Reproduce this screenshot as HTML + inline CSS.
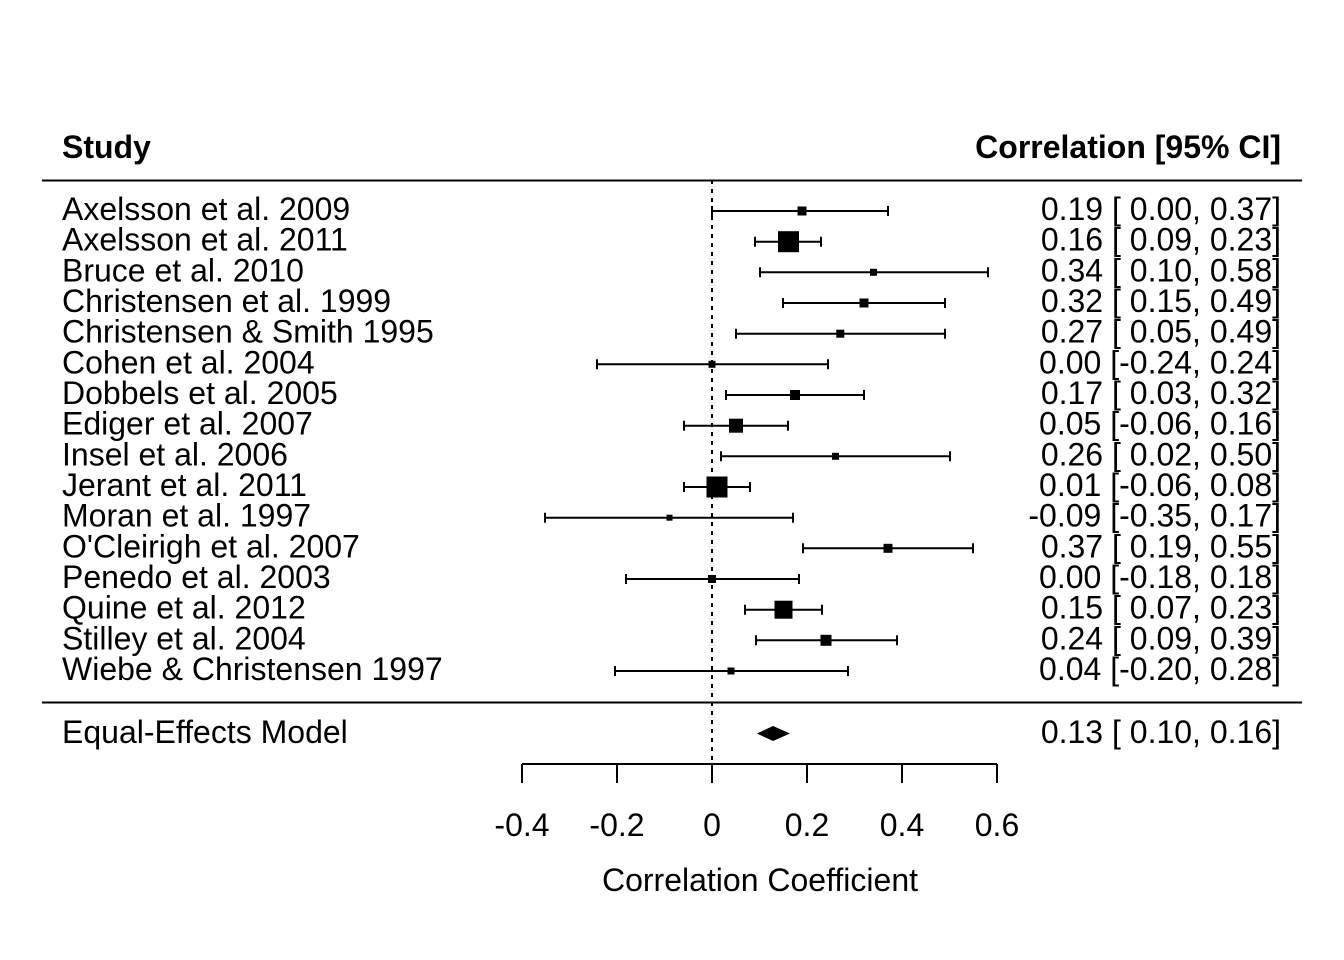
<!DOCTYPE html>
<html><head><meta charset="utf-8"><style>html,body{margin:0;padding:0;background:#fff}svg{display:block}text{font-family:"Liberation Sans",Arial,sans-serif;font-size:32px;fill:#000}</style></head><body>
<svg width="1344" height="960" viewBox="0 0 1344 960" xmlns="http://www.w3.org/2000/svg">
<rect width="1344" height="960" fill="#fff"/>
<text x="62" y="158" font-weight="bold" font-size="31">Study</text>
<text x="1281" y="158" font-weight="bold" font-size="31" text-anchor="end">Correlation [95% CI]</text>
<line x1="42" y1="180.5" x2="1302" y2="180.5" stroke="#000" stroke-width="2"/>
<line x1="42" y1="702.5" x2="1302" y2="702.5" stroke="#000" stroke-width="2"/>
<line x1="712" y1="180" x2="712" y2="764" stroke="#000" stroke-width="2" stroke-dasharray="4,5"/>
<g stroke="#000" stroke-width="2" fill="none">
<line x1="522" y1="764" x2="997" y2="764"/>
<line x1="522" y1="764" x2="522" y2="783"/><line x1="617" y1="764" x2="617" y2="783"/><line x1="712" y1="764" x2="712" y2="783"/><line x1="807" y1="764" x2="807" y2="783"/><line x1="902" y1="764" x2="902" y2="783"/><line x1="997" y1="764" x2="997" y2="783"/>
</g>
<g text-anchor="middle"><text x="522" y="836">-0.4</text><text x="617" y="836">-0.2</text><text x="712" y="836">0</text><text x="807" y="836">0.2</text><text x="902" y="836">0.4</text><text x="997" y="836">0.6</text>
<text x="760" y="891">Correlation Coefficient</text></g>
<polygon points="757,733.5 773,726 790,733.5 773,741" fill="#000"/>
<text x="62" y="743">Equal-Effects Model</text>
<text x="1281" y="743" text-anchor="end" xml:space="preserve">0.13 [ 0.10, 0.16]</text>
<g stroke="#000" stroke-width="2" fill="none">
<path d="M712 211H888M712 206V216M888 206V216"/>
<path d="M755 241.7H821M755 236.7V246.7M821 236.7V246.7"/>
<path d="M760 272.3H988M760 267.3V277.3M988 267.3V277.3"/>
<path d="M783 303H945M783 298V308M945 298V308"/>
<path d="M736 333.7H945M736 328.7V338.7M945 328.7V338.7"/>
<path d="M597 364.3H828M597 359.3V369.3M828 359.3V369.3"/>
<path d="M726 395H864M726 390V400M864 390V400"/>
<path d="M684 425.7H788M684 420.7V430.7M788 420.7V430.7"/>
<path d="M721 456.3H950M721 451.3V461.3M950 451.3V461.3"/>
<path d="M684 487H750M684 482V492M750 482V492"/>
<path d="M545 517.7H793M545 512.7V522.7M793 512.7V522.7"/>
<path d="M803 548.3H973M803 543.3V553.3M973 543.3V553.3"/>
<path d="M626 579H799M626 574V584M799 574V584"/>
<path d="M745 609.7H822M745 604.7V614.7M822 604.7V614.7"/>
<path d="M756 640.3H897M756 635.3V645.3M897 635.3V645.3"/>
<path d="M615 671H848M615 666V676M848 666V676"/>
</g>
<g fill="#000">
<rect x="797.5" y="206.5" width="9" height="9"/>
<rect x="778" y="231.2" width="21" height="21"/>
<rect x="870" y="268.8" width="7" height="7"/>
<rect x="859.5" y="298.5" width="9" height="9"/>
<rect x="836.3" y="329.7" width="8" height="8"/>
<rect x="708.5" y="360.8" width="7" height="7"/>
<rect x="790" y="390" width="10" height="10"/>
<rect x="729" y="418.7" width="14" height="14"/>
<rect x="832" y="452.8" width="7" height="7"/>
<rect x="706.5" y="476.5" width="21" height="21"/>
<rect x="666.5" y="514.7" width="6" height="6"/>
<rect x="883.5" y="543.8" width="9" height="9"/>
<rect x="708" y="575" width="8" height="8"/>
<rect x="774.5" y="600.7" width="18" height="18"/>
<rect x="820.5" y="634.8" width="11" height="11"/>
<rect x="727.5" y="667.5" width="7" height="7"/>
</g>
<g>
<text x="62" y="220">Axelsson et al. 2009</text>
<text x="62" y="250.7">Axelsson et al. 2011</text>
<text x="62" y="281.3">Bruce et al. 2010</text>
<text x="62" y="312">Christensen et al. 1999</text>
<text x="62" y="342.7">Christensen &amp; Smith 1995</text>
<text x="62" y="373.3">Cohen et al. 2004</text>
<text x="62" y="404">Dobbels et al. 2005</text>
<text x="62" y="434.7">Ediger et al. 2007</text>
<text x="62" y="465.3">Insel et al. 2006</text>
<text x="62" y="496">Jerant et al. 2011</text>
<text x="62" y="526.7">Moran et al. 1997</text>
<text x="62" y="557.3">O'Cleirigh et al. 2007</text>
<text x="62" y="588">Penedo et al. 2003</text>
<text x="62" y="618.7">Quine et al. 2012</text>
<text x="62" y="649.3">Stilley et al. 2004</text>
<text x="62" y="680">Wiebe &amp; Christensen 1997</text>
</g>
<g text-anchor="end" xml:space="preserve">
<text x="1281" y="220">0.19 [ 0.00, 0.37]</text>
<text x="1281" y="250.7">0.16 [ 0.09, 0.23]</text>
<text x="1281" y="281.3">0.34 [ 0.10, 0.58]</text>
<text x="1281" y="312">0.32 [ 0.15, 0.49]</text>
<text x="1281" y="342.7">0.27 [ 0.05, 0.49]</text>
<text x="1281" y="373.3">0.00 [-0.24, 0.24]</text>
<text x="1281" y="404">0.17 [ 0.03, 0.32]</text>
<text x="1281" y="434.7">0.05 [-0.06, 0.16]</text>
<text x="1281" y="465.3">0.26 [ 0.02, 0.50]</text>
<text x="1281" y="496">0.01 [-0.06, 0.08]</text>
<text x="1281" y="526.7">-0.09 [-0.35, 0.17]</text>
<text x="1281" y="557.3">0.37 [ 0.19, 0.55]</text>
<text x="1281" y="588">0.00 [-0.18, 0.18]</text>
<text x="1281" y="618.7">0.15 [ 0.07, 0.23]</text>
<text x="1281" y="649.3">0.24 [ 0.09, 0.39]</text>
<text x="1281" y="680">0.04 [-0.20, 0.28]</text>
</g>
</svg>
</body></html>
